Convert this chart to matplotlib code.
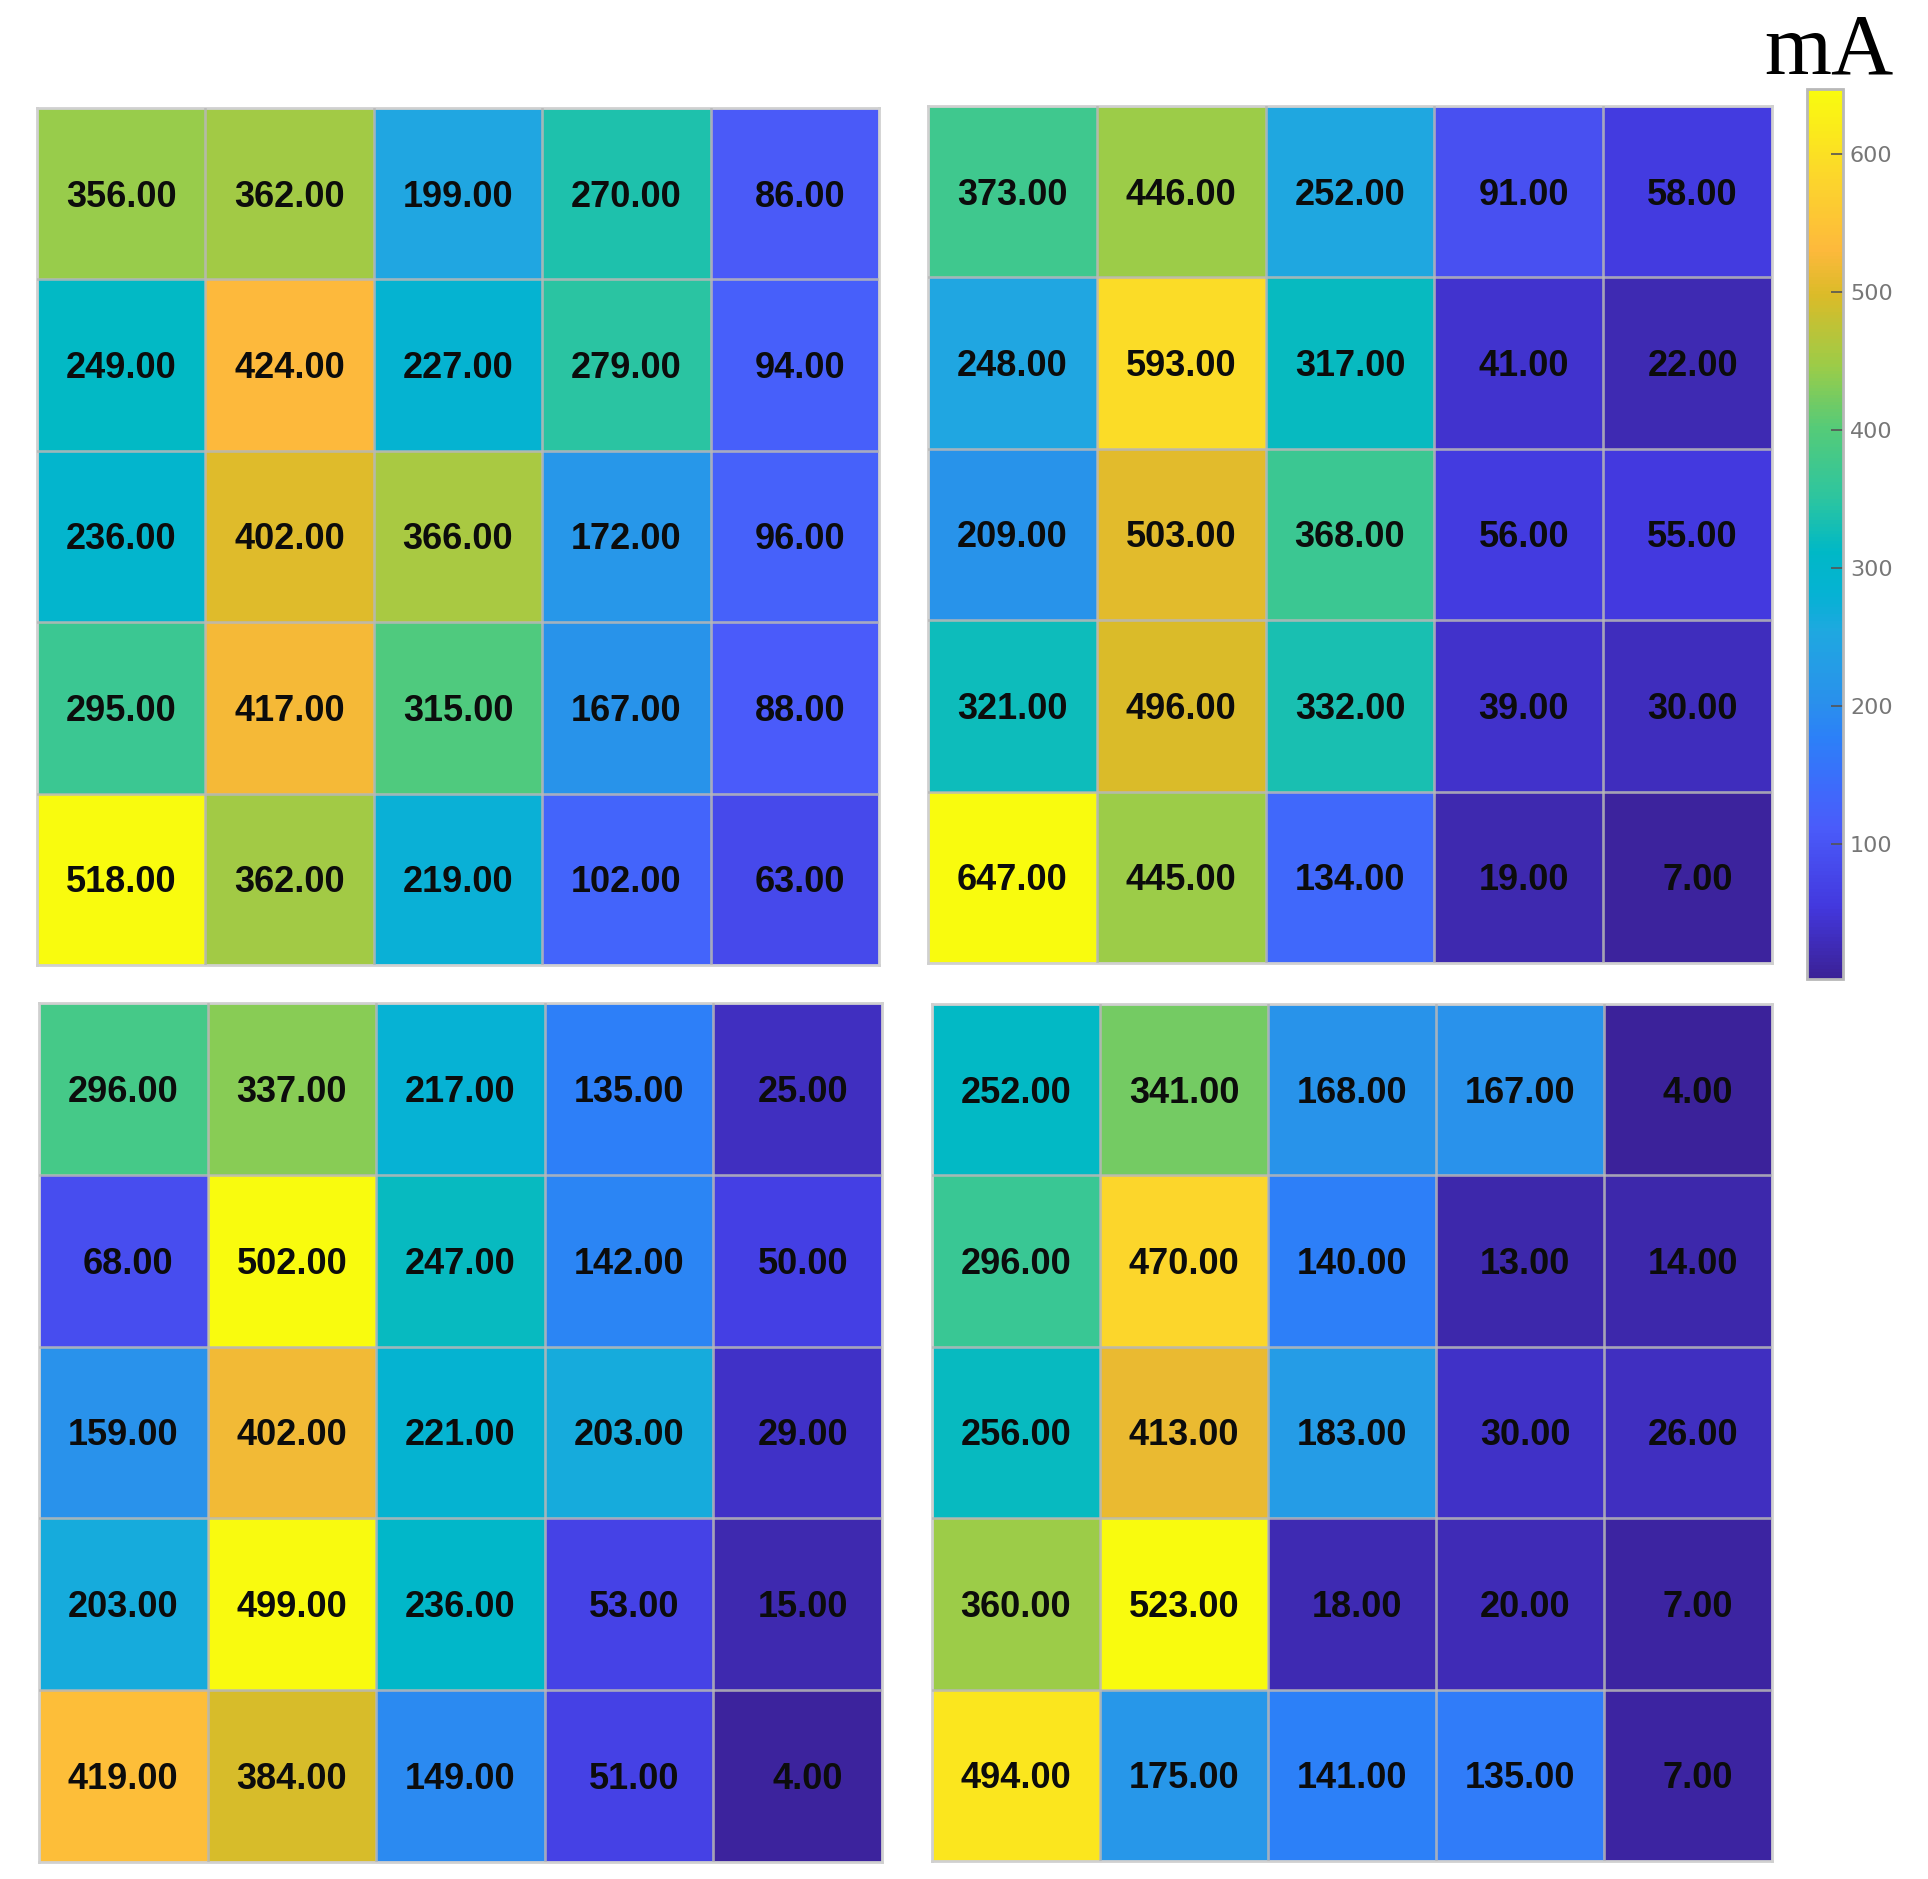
import matplotlib
matplotlib.use("Agg")
import matplotlib.pyplot as plt
import numpy as np
from matplotlib.cm import ScalarMappable
from matplotlib.colors import LinearSegmentedColormap, Normalize

W, H = 1928, 1879

top_left = [[356, 362, 199, 270, 86],
            [249, 424, 227, 279, 94],
            [236, 402, 366, 172, 96],
            [295, 417, 315, 167, 88],
            [518, 362, 219, 102, 63]]
top_right = [[373, 446, 252, 91, 58],
             [248, 593, 317, 41, 22],
             [209, 503, 368, 56, 55],
             [321, 496, 332, 39, 30],
             [647, 445, 134, 19, 7]]
bottom_left = [[296, 337, 217, 135, 25],
               [68, 502, 247, 142, 50],
               [159, 402, 221, 203, 29],
               [203, 499, 236, 53, 15],
               [419, 384, 149, 51, 4]]
bottom_right = [[252, 341, 168, 167, 4],
                [296, 470, 140, 13, 14],
                [256, 413, 183, 30, 26],
                [360, 523, 18, 20, 7],
                [494, 175, 141, 135, 7]]
cbar_ticks = [100, 200, 300, 400, 500, 600]

# colours
stops = [(0.0, "#3b2196"), (0.08, "#4338de"), (0.17, "#4a5cfa"), (0.21, "#3f69fb"),
         (0.27, "#2c80f8"), (0.31, "#2a90ec"), (0.39, "#1fa8e0"), (0.43, "#06b2d4"),
         (0.48, "#00b8c6"), (0.54, "#2cc5a0"), (0.62, "#55cb78"), (0.69, "#9ccc48"),
         (0.77, "#dbbb28"), (0.82, "#fdb93c"), (0.90, "#fcd52c"), (1.0, "#f9fb0e")]
cmap = LinearSegmentedColormap.from_list("parula_ish", stops)


def axes_px(fig, x0, y0, x1, y1):
    return fig.add_axes([x0 / W, 1 - y1 / H, (x1 - x0) / W, (y1 - y0) / H])


def draw_panel(ax, values):
    values = np.array(values)
    ax.pcolormesh(values, cmap=cmap, vmin=0, vmax=values.max())
    ax.set_xlim(0, 5)
    ax.set_ylim(5, 0)
    ax.set_xticks(range(1, 5))
    ax.set_yticks(range(1, 5))
    ax.tick_params(length=0, labelbottom=False, labelleft=False)
    ax.grid(color="#b8b8b8", alpha=0.85, lw=1.9)
    ax.set_axisbelow(False)
    for s in ax.spines.values():
        s.set_color("#d0d0d0")
        s.set_linewidth(2)
    for r, row in enumerate(values):
        for c, v in enumerate(row):
            # shorter numbers sit a bit right of centre
            shift = 0.03 * (3 - len(str(v)))
            ax.text(c + 0.5 + shift, r + 0.52, f"{v:.2f}", ha="center", va="center",
                    fontsize=26, fontweight="bold", family="Liberation Sans", color="#0c0c0c")


fig = plt.figure(figsize=(W / 100, H / 100), dpi=100)

draw_panel(axes_px(fig, 37, 108, 879, 965), top_left)
draw_panel(axes_px(fig, 928, 106, 1772, 963), top_right)
draw_panel(axes_px(fig, 39, 1003, 882, 1862), bottom_left)
draw_panel(axes_px(fig, 932, 1004, 1772, 1861), bottom_right)

cax = axes_px(fig, 1807, 89, 1843, 979)
cb = fig.colorbar(ScalarMappable(Normalize(2, 647), cmap), cax=cax)
cb.set_ticks(cbar_ticks)
cb.ax.tick_params(direction="in", length=9, width=1.2, color="#555555",
                  labelsize=16, labelcolor="#777777", pad=5)
cb.outline.set_edgecolor("#b8b8b8")
cb.outline.set_linewidth(2)

fig.text(1829 / W, 1 - 73 / H, "mA", family="Liberation Serif", fontsize=62,
         ha="center", va="baseline", color="black")

fig.savefig("out.png", dpi=100)
